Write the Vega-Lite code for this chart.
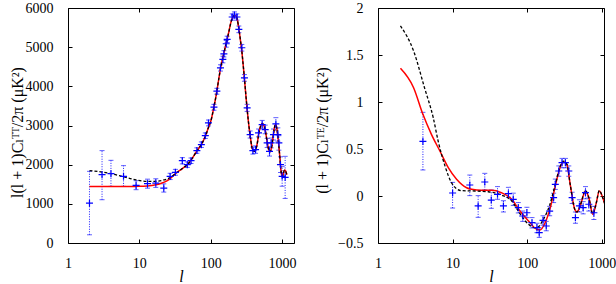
{
  "$schema": "https://vega.github.io/schema/vega-lite/v6.json",
  "padding": {"left": 8, "top": 0, "right": 0, "bottom": 0},
  "spacing": 84,
  "bounds": "flush",
  "config": {
    "font": "Liberation Serif",
    "view": {"stroke": "#000", "strokeWidth": 1},
    "axis": {"grid": false, "domain": false, "ticks": true, "tickColor": "#000", "tickSize": -4, "tickWidth": 1,
      "labelFont": "Liberation Serif", "labelFontSize": 14, "labelColor": "#000",
      "titleFont": "Liberation Serif, DejaVu Serif", "titleFontSize": 16, "titleFontWeight": "normal", "titleColor": "#000"}
  },
  "datasets": {
    "ttRed": [
      {"l":2,"v":1440},{"l":5,"v":1440},{"l":9,"v":1445},{"l":13,"v":1455},{"l":17,"v":1485},{"l":20,"v":1520},{"l":24,"v":1580},{"l":28,"v":1670},{"l":31,"v":1750},{"l":40,"v":1900},{"l":47,"v":2000},{"l":55,"v":2160},{"l":64,"v":2350},{"l":74,"v":2520},{"l":84,"v":2720},{"l":93,"v":2950},{"l":100,"v":3100},{"l":110,"v":3440},{"l":120,"v":3800},{"l":130,"v":4200},{"l":140,"v":4540},{"l":150,"v":4780},{"l":160,"v":5000},{"l":170,"v":5200},{"l":180,"v":5400},{"l":190,"v":5600},{"l":200,"v":5730},{"l":215,"v":5810},{"l":225,"v":5800},{"l":235,"v":5720},{"l":248,"v":5470},{"l":260,"v":5200},{"l":273,"v":4900},{"l":285,"v":4550},{"l":297,"v":4200},{"l":310,"v":3800},{"l":324,"v":3420},{"l":340,"v":3050},{"l":357,"v":2750},{"l":375,"v":2480},{"l":390,"v":2370},{"l":410,"v":2340},{"l":430,"v":2400},{"l":450,"v":2550},{"l":470,"v":2780},{"l":500,"v":2980},{"l":530,"v":3050},{"l":560,"v":2990},{"l":590,"v":2820},{"l":620,"v":2570},{"l":650,"v":2380},{"l":680,"v":2330},{"l":710,"v":2420},{"l":740,"v":2640},{"l":770,"v":2870},{"l":800,"v":3010},{"l":820,"v":3020},{"l":845,"v":2920},{"l":870,"v":2750},{"l":900,"v":2500},{"l":930,"v":2200},{"l":960,"v":1900},{"l":990,"v":1730},{"l":1010,"v":1700},{"l":1040,"v":1760},{"l":1075,"v":1860},{"l":1110,"v":1860},{"l":1140,"v":1800},{"l":1170,"v":1740}
    ],
    "ttBlack": [
      {"l":2,"v":1850},{"l":3,"v":1810},{"l":4,"v":1770},{"l":6,"v":1690},{"l":9,"v":1610},{"l":13,"v":1575},{"l":17,"v":1575},{"l":22,"v":1610},{"l":27,"v":1670},{"l":31,"v":1750},{"l":40,"v":1900},{"l":47,"v":2000},{"l":55,"v":2160},{"l":64,"v":2350},{"l":74,"v":2520},{"l":84,"v":2720},{"l":93,"v":2950},{"l":100,"v":3100},{"l":110,"v":3440},{"l":120,"v":3800},{"l":130,"v":4200},{"l":140,"v":4540},{"l":150,"v":4780},{"l":160,"v":5000},{"l":170,"v":5200},{"l":180,"v":5400},{"l":190,"v":5600},{"l":200,"v":5730},{"l":215,"v":5810},{"l":225,"v":5800},{"l":235,"v":5720},{"l":248,"v":5470},{"l":260,"v":5200},{"l":273,"v":4900},{"l":285,"v":4550},{"l":297,"v":4200},{"l":310,"v":3800},{"l":324,"v":3420},{"l":340,"v":3050},{"l":357,"v":2750},{"l":375,"v":2480},{"l":390,"v":2370},{"l":410,"v":2340},{"l":430,"v":2400},{"l":450,"v":2550},{"l":470,"v":2780},{"l":500,"v":2980},{"l":530,"v":3050},{"l":560,"v":2990},{"l":590,"v":2820},{"l":620,"v":2570},{"l":650,"v":2380},{"l":680,"v":2330},{"l":710,"v":2420},{"l":740,"v":2640},{"l":770,"v":2870},{"l":800,"v":3010},{"l":820,"v":3020},{"l":845,"v":2920},{"l":870,"v":2750},{"l":900,"v":2500},{"l":930,"v":2200},{"l":960,"v":1900},{"l":990,"v":1730},{"l":1010,"v":1700},{"l":1040,"v":1760},{"l":1075,"v":1860},{"l":1110,"v":1860},{"l":1140,"v":1800},{"l":1170,"v":1740}
    ],
    "ttData": [
      {"l":2,"v":1018,"lo":210,"hi":1830},{"l":3,"v":1745,"lo":1105,"hi":2359},{"l":4,"v":1770,"lo":1446,"hi":2111},{"l":6,"v":1702,"lo":1446,"hi":1975},{"l":9,"v":1471,"lo":1361,"hi":1591},{"l":13,"v":1515,"lo":1400,"hi":1630},{"l":17,"v":1531,"lo":1420,"hi":1640},{"l":22,"v":1403,"lo":1300,"hi":1510},{"l":27,"v":1700,"lo":1620,"hi":1780},{"l":32,"v":1804,"lo":1730,"hi":1880},{"l":40,"v":2103,"lo":2020,"hi":2180},{"l":47,"v":2001,"lo":1930,"hi":2070},{"l":53,"v":2103,"lo":2030,"hi":2170},{"l":64,"v":2359,"lo":2290,"hi":2430},{"l":74,"v":2510,"lo":2440,"hi":2580},{"l":84,"v":2740,"lo":2670,"hi":2810},{"l":93,"v":3066,"lo":2990,"hi":3140},{"l":111,"v":3467,"lo":3390,"hi":3540},{"l":122,"v":3877,"lo":3800,"hi":3950},{"l":137,"v":4473,"lo":4390,"hi":4550},{"l":148,"v":4688,"lo":4600,"hi":4770},{"l":153,"v":4831,"lo":4750,"hi":4910},{"l":165,"v":5087,"lo":5000,"hi":5170},{"l":170,"v":5200,"lo":5120,"hi":5280},{"l":200,"v":5770,"lo":5690,"hi":5850},{"l":215,"v":5821,"lo":5740,"hi":5900},{"l":233,"v":5770,"lo":5690,"hi":5850},{"l":248,"v":5455,"lo":5370,"hi":5540},{"l":273,"v":4985,"lo":4900,"hi":5070},{"l":297,"v":4217,"lo":4130,"hi":4300},{"l":324,"v":3449,"lo":3360,"hi":3540},{"l":357,"v":2769,"lo":2680,"hi":2860},{"l":390,"v":2359,"lo":2270,"hi":2450},{"l":425,"v":2385,"lo":2290,"hi":2480},{"l":468,"v":2810,"lo":2710,"hi":2910},{"l":526,"v":3024,"lo":2920,"hi":3130},{"l":580,"v":2897,"lo":2790,"hi":3010},{"l":618,"v":2554,"lo":2440,"hi":2670},{"l":667,"v":2341,"lo":2220,"hi":2460},{"l":703,"v":2554,"lo":2430,"hi":2680},{"l":758,"v":2769,"lo":2630,"hi":2910},{"l":819,"v":3040,"lo":2880,"hi":3200},{"l":873,"v":2769,"lo":2600,"hi":2940},{"l":902,"v":2554,"lo":2370,"hi":2740},{"l":950,"v":2001,"lo":1800,"hi":2200},{"l":1003,"v":1702,"lo":1450,"hi":1950},{"l":1105,"v":1676,"lo":1138,"hi":2213}
    ],
    "teRed": [
      {"l":2,"v":1.358},{"l":3,"v":1.152},{"l":4,"v":0.869},{"l":5.2,"v":0.656},{"l":6.75,"v":0.479},{"l":8.75,"v":0.301},{"l":11.3,"v":0.178},{"l":15.4,"v":0.088},{"l":18,"v":0.071},{"l":24.5,"v":0.06},{"l":33.5,"v":0.06},{"l":45,"v":0.035},{"l":62,"v":-0.035},{"l":80,"v":-0.16},{"l":104,"v":-0.266},{"l":134,"v":-0.354},{"l":148,"v":-0.362},{"l":174,"v":-0.284},{"l":204,"v":-0.124},{"l":238,"v":0.106},{"l":275,"v":0.301},{"l":306,"v":0.365},{"l":340,"v":0.337},{"l":377,"v":0.124},{"l":434,"v":-0.142},{"l":464,"v":-0.17},{"l":513,"v":-0.106},{"l":604,"v":0.053},{"l":670,"v":-0.018},{"l":757,"v":-0.195},{"l":845,"v":-0.071},{"l":925,"v":0.053},{"l":1030,"v":-0.018},{"l":1100,"v":-0.088}
    ],
    "teBlack": [
      {"l":2,"v":1.809},{"l":3,"v":1.543},{"l":4.2,"v":1.152},{"l":5.5,"v":0.833},{"l":6.4,"v":0.585},{"l":7.9,"v":0.32},{"l":9.7,"v":0.14},{"l":11.2,"v":0.08},{"l":13.2,"v":0.057},{"l":20,"v":0.053},{"l":30,"v":0.045},{"l":45,"v":0.01},{"l":62,"v":-0.053},{"l":80,"v":-0.188},{"l":104,"v":-0.301},{"l":125,"v":-0.337},{"l":140,"v":-0.33},{"l":160,"v":-0.266},{"l":200,"v":-0.098},{"l":238,"v":0.124},{"l":275,"v":0.31},{"l":306,"v":0.37},{"l":340,"v":0.34},{"l":377,"v":0.124},{"l":434,"v":-0.142},{"l":464,"v":-0.17},{"l":513,"v":-0.1},{"l":604,"v":0.055},{"l":670,"v":-0.018},{"l":757,"v":-0.19},{"l":845,"v":-0.07},{"l":925,"v":0.058},{"l":1030,"v":-0.018},{"l":1100,"v":-0.088}
    ],
    "teData": [
      {"l":4,"v":0.582,"lo":0.277,"hi":0.89},{"l":10,"v":0.032,"lo":-0.128,"hi":0.145},{"l":17,"v":0.117,"lo":0.004,"hi":0.223},{"l":22,"v":-0.106,"lo":-0.227,"hi":0.004},{"l":27,"v":0.149,"lo":0.064,"hi":0.241},{"l":33,"v":-0.043,"lo":-0.131,"hi":0.064},{"l":40,"v":0.018,"lo":-0.035,"hi":0.1},{"l":48,"v":-0.106,"lo":-0.17,"hi":-0.05},{"l":56,"v":0.025,"lo":-0.014,"hi":0.092},{"l":65,"v":-0.035,"lo":-0.1,"hi":0.03},{"l":76,"v":-0.124,"lo":-0.18,"hi":-0.07},{"l":87,"v":-0.213,"lo":-0.27,"hi":-0.16},{"l":99,"v":-0.178,"lo":-0.23,"hi":-0.12},{"l":116,"v":-0.284,"lo":-0.34,"hi":-0.23},{"l":135,"v":-0.337,"lo":-0.39,"hi":-0.29},{"l":145,"v":-0.39,"lo":-0.44,"hi":-0.34},{"l":163,"v":-0.259,"lo":-0.31,"hi":-0.21},{"l":180,"v":-0.319,"lo":-0.37,"hi":-0.27},{"l":200,"v":-0.16,"lo":-0.21,"hi":-0.11},{"l":226,"v":-0.018,"lo":-0.07,"hi":0.03},{"l":238,"v":0.124,"lo":0.07,"hi":0.18},{"l":265,"v":0.266,"lo":0.21,"hi":0.32},{"l":293,"v":0.354,"lo":0.3,"hi":0.4},{"l":325,"v":0.354,"lo":0.3,"hi":0.4},{"l":361,"v":0.266,"lo":0.21,"hi":0.32},{"l":400,"v":-0.018,"lo":-0.08,"hi":0.04},{"l":443,"v":-0.231,"lo":-0.29,"hi":-0.17},{"l":501,"v":-0.106,"lo":-0.17,"hi":-0.04},{"l":562,"v":-0.124,"lo":-0.19,"hi":-0.06},{"l":604,"v":0.035,"lo":-0.03,"hi":0.1},{"l":670,"v":-0.088,"lo":-0.16,"hi":-0.02},{"l":783,"v":-0.178,"lo":-0.25,"hi":-0.11}
    ]
  },
  "hconcat": [
    {
      "width": 226, "height": 235,
      "layer": [
        {"data": {"name": "ttData"}, "mark": {"type": "rule", "color": "#1a1aff", "strokeDash": [1, 1.5], "strokeWidth": 1},
          "encoding": {
            "x": {"field": "l", "type": "quantitative", "scale": {"type": "log", "domain": [1, 1470], "nice": false},
              "axis": {"orient": "bottom", "values": [1, 10, 100, 1000], "format": "d", "labelFlush": false, "labelPadding": 17, "title": "l", "titleFontStyle": "italic", "titleX": 113, "titleY": 38, "titleBaseline": "alphabetic"}},
            "y": {"field": "lo", "type": "quantitative", "scale": {"domain": [0, 6000], "nice": false},
              "axis": {"orient": "left", "values": [0, 1000, 2000, 3000, 4000, 5000, 6000], "format": "d", "labelPadding": 19, "title": "l(l + 1)Cₗᵀᵀ/2π  (μK²)", "titleX": -51, "titleY": 124, "titleAngle": 270, "titleBaseline": "middle", "titleAlign": "center"}},
            "y2": {"field": "hi"}}},
        {"data": {"name": "ttData"}, "mark": {"type": "tick", "orient": "horizontal", "color": "#1a1aff", "size": 5, "thickness": 1},
          "encoding": {
            "x": {"field": "l", "type": "quantitative", "scale": {"type": "log", "domain": [1, 1470], "nice": false}, "axis": null},
            "y": {"field": "lo", "type": "quantitative", "scale": {"domain": [0, 6000], "nice": false}, "axis": null}}},
        {"data": {"name": "ttData"}, "mark": {"type": "tick", "orient": "horizontal", "color": "#1a1aff", "size": 5, "thickness": 1},
          "encoding": {
            "x": {"field": "l", "type": "quantitative", "scale": {"type": "log", "domain": [1, 1470], "nice": false}, "axis": null},
            "y": {"field": "hi", "type": "quantitative", "scale": {"domain": [0, 6000], "nice": false}, "axis": null}}},
        {"data": {"name": "ttRed"}, "mark": {"type": "line", "color": "#ff0000", "strokeWidth": 1.5, "interpolate": "monotone", "clip": true},
          "encoding": {
            "x": {"field": "l", "type": "quantitative", "scale": {"type": "log", "domain": [1, 1470], "nice": false}, "axis": null},
            "y": {"field": "v", "type": "quantitative", "scale": {"domain": [0, 6000], "nice": false}, "axis": null}}},
        {"data": {"name": "ttBlack"}, "mark": {"type": "line", "color": "#000000", "strokeWidth": 1.3, "strokeDash": [3, 2], "interpolate": "monotone", "clip": true},
          "encoding": {
            "x": {"field": "l", "type": "quantitative", "scale": {"type": "log", "domain": [1, 1470], "nice": false}, "axis": null},
            "y": {"field": "v", "type": "quantitative", "scale": {"domain": [0, 6000], "nice": false}, "axis": null}}},
        {"data": {"name": "ttData"}, "mark": {"type": "point", "shape": "M-1,0H1M0,-1V1", "filled": false, "color": "#0000ff", "strokeWidth": 1.2, "size": 49, "opacity": 1},
          "encoding": {
            "x": {"field": "l", "type": "quantitative", "scale": {"type": "log", "domain": [1, 1470], "nice": false}, "axis": null},
            "y": {"field": "v", "type": "quantitative", "scale": {"domain": [0, 6000], "nice": false}, "axis": null}}},
        {"data": {"name": "ttRed"}, "mark": {"type": "line", "opacity": 0},
          "encoding": {
            "x": {"field": "l", "type": "quantitative", "scale": {"type": "log", "domain": [1, 1470], "nice": false},
              "axis": {"orient": "top", "values": [1, 10, 100, 1000], "labels": false, "title": null}},
            "y": {"field": "v", "type": "quantitative", "scale": {"domain": [0, 6000], "nice": false},
              "axis": {"orient": "right", "values": [0, 1000, 2000, 3000, 4000, 5000, 6000], "labels": false, "title": null}}}}
      ],
      "resolve": {"axis": {"x": "independent", "y": "independent"}}
    },
    {
      "width": 226, "height": 235,
      "layer": [
        {"data": {"name": "teData"}, "mark": {"type": "rule", "color": "#1a1aff", "strokeDash": [1, 1.5], "strokeWidth": 1},
          "encoding": {
            "x": {"field": "l", "type": "quantitative", "scale": {"type": "log", "domain": [1, 1070], "nice": false},
              "axis": {"orient": "bottom", "values": [1, 10, 100, 1000], "format": "d", "labelFlush": false, "labelPadding": 17, "title": "l", "titleFontStyle": "italic", "titleX": 113, "titleY": 38, "titleBaseline": "alphabetic"}},
            "y": {"field": "lo", "type": "quantitative", "scale": {"domain": [-0.5, 2], "nice": false},
              "axis": {"orient": "left", "values": [-0.5, 0, 0.5, 1, 1.5, 2], "format": "~g", "labelPadding": 19, "title": "(l + 1)Cₗᵀᴱ/2π  (μK²)", "titleX": -56, "titleY": 122, "titleAngle": 270, "titleBaseline": "middle", "titleAlign": "center"}},
            "y2": {"field": "hi"}}},
        {"data": {"name": "teData"}, "mark": {"type": "tick", "orient": "horizontal", "color": "#1a1aff", "size": 5, "thickness": 1},
          "encoding": {
            "x": {"field": "l", "type": "quantitative", "scale": {"type": "log", "domain": [1, 1070], "nice": false}, "axis": null},
            "y": {"field": "lo", "type": "quantitative", "scale": {"domain": [-0.5, 2], "nice": false}, "axis": null}}},
        {"data": {"name": "teData"}, "mark": {"type": "tick", "orient": "horizontal", "color": "#1a1aff", "size": 5, "thickness": 1},
          "encoding": {
            "x": {"field": "l", "type": "quantitative", "scale": {"type": "log", "domain": [1, 1070], "nice": false}, "axis": null},
            "y": {"field": "hi", "type": "quantitative", "scale": {"domain": [-0.5, 2], "nice": false}, "axis": null}}},
        {"data": {"name": "teRed"}, "mark": {"type": "line", "color": "#ff0000", "strokeWidth": 1.5, "interpolate": "monotone", "clip": true},
          "encoding": {
            "x": {"field": "l", "type": "quantitative", "scale": {"type": "log", "domain": [1, 1070], "nice": false}, "axis": null},
            "y": {"field": "v", "type": "quantitative", "scale": {"domain": [-0.5, 2], "nice": false}, "axis": null}}},
        {"data": {"name": "teBlack"}, "mark": {"type": "line", "color": "#000000", "strokeWidth": 1.3, "strokeDash": [3, 2], "interpolate": "monotone", "clip": true},
          "encoding": {
            "x": {"field": "l", "type": "quantitative", "scale": {"type": "log", "domain": [1, 1070], "nice": false}, "axis": null},
            "y": {"field": "v", "type": "quantitative", "scale": {"domain": [-0.5, 2], "nice": false}, "axis": null}}},
        {"data": {"name": "teData"}, "mark": {"type": "point", "shape": "M-1,0H1M0,-1V1", "filled": false, "color": "#0000ff", "strokeWidth": 1.2, "size": 49, "opacity": 1},
          "encoding": {
            "x": {"field": "l", "type": "quantitative", "scale": {"type": "log", "domain": [1, 1070], "nice": false}, "axis": null},
            "y": {"field": "v", "type": "quantitative", "scale": {"domain": [-0.5, 2], "nice": false}, "axis": null}}},
        {"data": {"name": "teRed"}, "mark": {"type": "line", "opacity": 0},
          "encoding": {
            "x": {"field": "l", "type": "quantitative", "scale": {"type": "log", "domain": [1, 1070], "nice": false},
              "axis": {"orient": "top", "values": [1, 10, 100, 1000], "labels": false, "title": null}},
            "y": {"field": "v", "type": "quantitative", "scale": {"domain": [-0.5, 2], "nice": false},
              "axis": {"orient": "right", "values": [-0.5, 0, 0.5, 1, 1.5, 2], "labels": false, "title": null}}}}
      ],
      "resolve": {"axis": {"x": "independent", "y": "independent"}}
    }
  ]
}
